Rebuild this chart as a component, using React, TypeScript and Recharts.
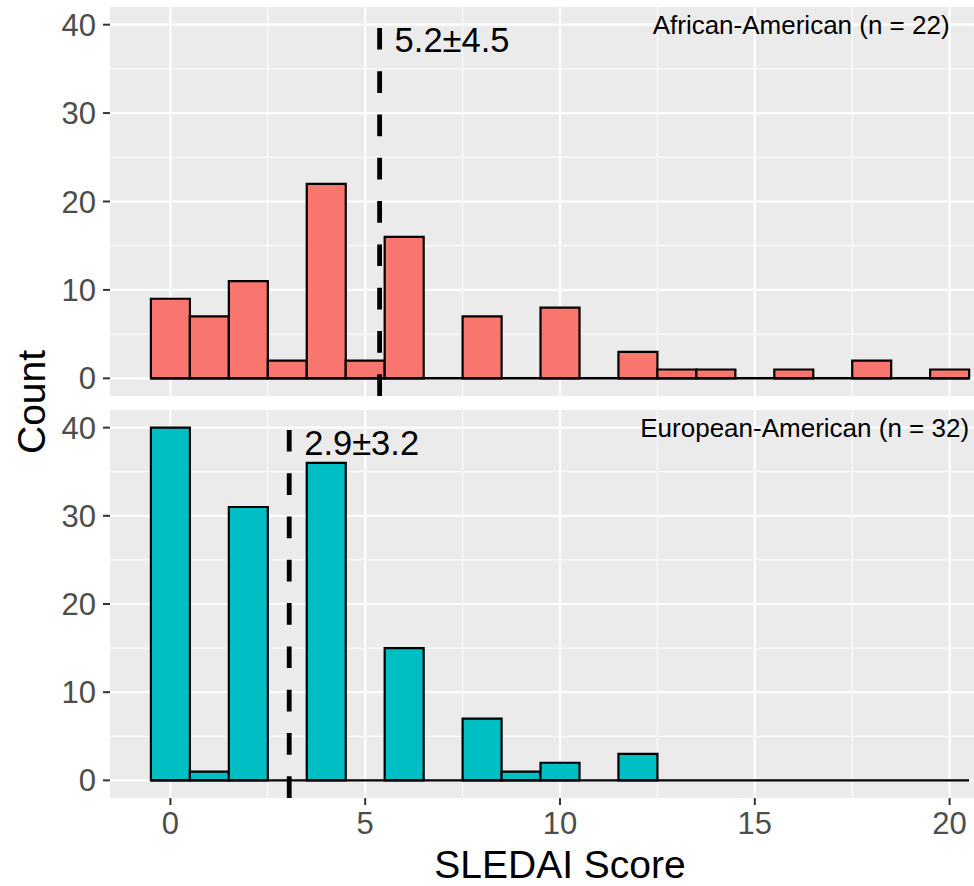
import React from "react";
import {
  Bar,
  CartesianGrid,
  ComposedChart,
  ReferenceDot,
  ReferenceLine,
  XAxis,
  YAxis,
} from "recharts";

const SCORES = [0, 1, 2, 3, 4, 5, 6, 7, 8, 9, 10, 11, 12, 13, 14, 15, 16, 17, 18, 19, 20];
const AA_COUNTS = [9, 7, 11, 2, 22, 2, 16, 0, 7, 0, 8, 0, 3, 1, 1, 0, 1, 0, 2, 0, 1];
const EA_COUNTS = [40, 1, 31, 0, 36, 0, 15, 0, 7, 1, 2, 0, 3, 0, 0, 0, 0, 0, 0, 0, 0];

const X_TICKS = [0, 5, 10, 15, 20];
const X_MINOR = [2.5, 7.5, 12.5, 17.5];
const Y_TICKS = [0, 10, 20, 30, 40];
const Y_MINOR = [5, 15, 25, 35];

const MEANS = [5.37, 3.05];
const MEAN_LABELS = ["5.2±4.5", "2.9±3.2"];
const GROUP_LABELS = ["African-American (n = 22)", "European-American (n = 32)"];
const GROUP_LABEL_X = [20, 20.5];

const FONT = "'Liberation Sans', Arial, sans-serif";
const X_DOMAIN: [number, number] = [-1.55, 21.55];
const Y_DOMAIN: [number, number] = [-2, 42];
const CHART_W = 1010;

type PanelProps = {
  counts: number[];
  fill: string;
  idx: number;
  height: number;
  marginTop: number;
  marginBottom: number;
  showX: boolean;
};

function Panel({ counts, fill, idx, height, marginTop, marginBottom, showX }: PanelProps) {
  const data = SCORES.map((s, i) => ({ score: s, count: counts[i] }));

  return (
    <ComposedChart
      width={CHART_W}
      height={height}
      data={data}
      margin={{ top: marginTop, right: 0, bottom: marginBottom, left: 0 }}
      barCategoryGap={0}
      barGap={0}
    >
      <CartesianGrid
        fill="#EBEBEB"
        stroke="#FFFFFF"
        strokeWidth={1}
        horizontalValues={Y_MINOR}
        verticalValues={X_MINOR}
      />
      <CartesianGrid
        stroke="#FFFFFF"
        strokeWidth={2.2}
        horizontalValues={Y_TICKS}
        verticalValues={X_TICKS}
      />
      <XAxis
        type="number"
        dataKey="score"
        domain={X_DOMAIN}
        allowDataOverflow
        ticks={X_TICKS}
        hide={!showX}
        height={88}
        axisLine={false}
        tickSize={7}
        tickMargin={7}
        tickLine={{ stroke: "#333333", strokeWidth: 2 }}
        tick={{ fill: "#4D4D4D", fontSize: 31, fontFamily: FONT }}
        label={{
          value: "SLEDAI Score",
          position: "insideBottom",
          offset: 8,
          fill: "#000000",
          fontSize: 39,
          fontFamily: FONT,
        }}
      />
      <YAxis
        type="number"
        domain={Y_DOMAIN}
        allowDataOverflow
        ticks={Y_TICKS}
        width={110}
        axisLine={false}
        tickSize={7}
        tickMargin={7}
        tickLine={{ stroke: "#333333", strokeWidth: 2 }}
        tick={{ fill: "#4D4D4D", fontSize: 31, fontFamily: FONT }}
      />
      <Bar
        dataKey="count"
        fill={fill}
        stroke="#000000"
        strokeWidth={2.2}
        isAnimationActive={false}
      />
      <ReferenceLine
        segment={[
          { x: -0.5, y: 0 },
          { x: 20.5, y: 0 },
        ]}
        stroke="#000000"
        strokeWidth={2.4}
      />
      <ReferenceLine
        x={MEANS[idx]}
        stroke="#000000"
        strokeWidth={4.8}
        strokeDasharray="21.7 21.6"
      />
      <ReferenceDot
        x={MEANS[idx]}
        y={38.3}
        r={0}
        shape={(p: any) => (
          <text
            x={p.cx + 15}
            y={p.cy}
            dy="0.355em"
            fontSize={34.5}
            fontFamily={FONT}
            fill="#000000"
          >
            {MEAN_LABELS[idx]}
          </text>
        )}
      />
      <ReferenceDot
        x={GROUP_LABEL_X[idx]}
        y={40}
        r={0}
        shape={(p: any) => (
          <text
            x={p.cx}
            y={p.cy}
            dy="0.355em"
            textAnchor="end"
            fontSize={26}
            fontFamily={FONT}
            fill="#000000"
          >
            {GROUP_LABELS[idx]}
          </text>
        )}
      />
    </ComposedChart>
  );
}

export default function App() {
  return (
    <div
      style={{
        position: "absolute",
        left: 0,
        top: 0,
        width: 974,
        height: 886,
        overflow: "hidden",
        background: "#FFFFFF",
      }}
    >
      <div style={{ position: "absolute", left: 0, top: 0 }}>
        <Panel
          counts={AA_COUNTS}
          fill="#F8766D"
          idx={0}
          height={400}
          marginTop={7}
          marginBottom={4}
          showX={false}
        />
      </div>
      <div style={{ position: "absolute", left: 0, top: 400 }}>
        <Panel
          counts={EA_COUNTS}
          fill="#00BFC4"
          idx={1}
          height={486}
          marginTop={10}
          marginBottom={0}
          showX
        />
      </div>
      <div
        style={{
          position: "absolute",
          left: 31,
          top: 402,
          transform: "translate(-50%, -50%) rotate(-90deg)",
          fontFamily: FONT,
          fontSize: 39,
          color: "#000000",
          whiteSpace: "nowrap",
          lineHeight: 1,
        }}
      >
        Count
      </div>
    </div>
  );
}
